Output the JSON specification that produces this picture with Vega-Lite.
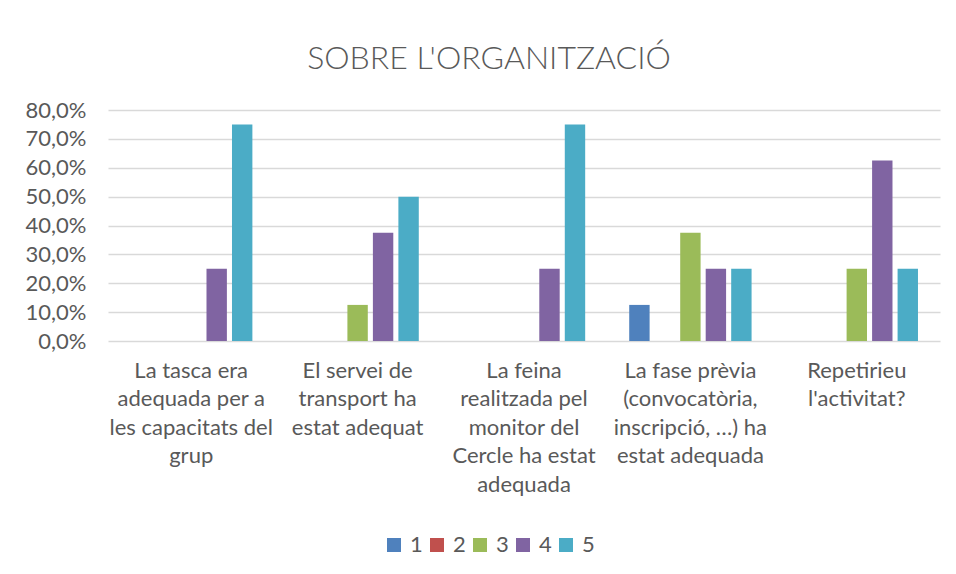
{
  "$schema": "https://vega.github.io/schema/vega-lite/v6.json",
  "width": 832,
  "height": 231,
  "autosize": {"type": "none"},
  "padding": {"left": 108, "top": 110, "right": 16, "bottom": 233},
  "background": "white",
  "title": {
    "text": "SOBRE L'ORGANITZACIÓ",
    "font": "Lato",
    "fontSize": 32,
    "fontWeight": 300,
    "color": "#595959",
    "anchor": "middle",
    "dx": -35,
    "offset": 23
  },
  "data": {
    "values": [
      {"pregunta": "La tasca era|adequada per a|les capacitats del|grup", "resposta": "1", "percentatge": 0},
      {"pregunta": "La tasca era|adequada per a|les capacitats del|grup", "resposta": "2", "percentatge": 0},
      {"pregunta": "La tasca era|adequada per a|les capacitats del|grup", "resposta": "3", "percentatge": 0},
      {"pregunta": "La tasca era|adequada per a|les capacitats del|grup", "resposta": "4", "percentatge": 0.25},
      {"pregunta": "La tasca era|adequada per a|les capacitats del|grup", "resposta": "5", "percentatge": 0.75},
      {"pregunta": "El servei de|transport ha|estat adequat", "resposta": "1", "percentatge": 0},
      {"pregunta": "El servei de|transport ha|estat adequat", "resposta": "2", "percentatge": 0},
      {"pregunta": "El servei de|transport ha|estat adequat", "resposta": "3", "percentatge": 0.125},
      {"pregunta": "El servei de|transport ha|estat adequat", "resposta": "4", "percentatge": 0.375},
      {"pregunta": "El servei de|transport ha|estat adequat", "resposta": "5", "percentatge": 0.5},
      {"pregunta": "La feina|realitzada pel|monitor del|Cercle ha estat|adequada", "resposta": "1", "percentatge": 0},
      {"pregunta": "La feina|realitzada pel|monitor del|Cercle ha estat|adequada", "resposta": "2", "percentatge": 0},
      {"pregunta": "La feina|realitzada pel|monitor del|Cercle ha estat|adequada", "resposta": "3", "percentatge": 0},
      {"pregunta": "La feina|realitzada pel|monitor del|Cercle ha estat|adequada", "resposta": "4", "percentatge": 0.25},
      {"pregunta": "La feina|realitzada pel|monitor del|Cercle ha estat|adequada", "resposta": "5", "percentatge": 0.75},
      {"pregunta": "La fase prèvia|(convocatòria,|inscripció, …) ha|estat adequada", "resposta": "1", "percentatge": 0.125},
      {"pregunta": "La fase prèvia|(convocatòria,|inscripció, …) ha|estat adequada", "resposta": "2", "percentatge": 0},
      {"pregunta": "La fase prèvia|(convocatòria,|inscripció, …) ha|estat adequada", "resposta": "3", "percentatge": 0.375},
      {"pregunta": "La fase prèvia|(convocatòria,|inscripció, …) ha|estat adequada", "resposta": "4", "percentatge": 0.25},
      {"pregunta": "La fase prèvia|(convocatòria,|inscripció, …) ha|estat adequada", "resposta": "5", "percentatge": 0.25},
      {"pregunta": "Repetirieu|l'activitat?", "resposta": "1", "percentatge": 0},
      {"pregunta": "Repetirieu|l'activitat?", "resposta": "2", "percentatge": 0},
      {"pregunta": "Repetirieu|l'activitat?", "resposta": "3", "percentatge": 0.25},
      {"pregunta": "Repetirieu|l'activitat?", "resposta": "4", "percentatge": 0.625},
      {"pregunta": "Repetirieu|l'activitat?", "resposta": "5", "percentatge": 0.25}
    ]
  },
  "mark": {"type": "bar"},
  "encoding": {
    "x": {
      "field": "pregunta",
      "type": "nominal",
      "sort": null,
      "scale": {"paddingInner": 0.234, "paddingOuter": 0.117},
      "axis": {
        "title": null,
        "labelAngle": 0,
        "labelExpr": "split(datum.label, '|')",
        "labelFont": "Lato",
        "labelFontSize": 22,
        "labelColor": "#595959",
        "labelLineHeight": 28.5,
        "labelPadding": 19,
        "labelBaseline": "top",
        "labelLimit": 0,
        "ticks": false,
        "domain": false
      }
    },
    "xOffset": {
      "field": "resposta",
      "type": "nominal",
      "scale": {"paddingInner": 0.2, "paddingOuter": 0.1}
    },
    "y": {
      "field": "percentatge",
      "type": "quantitative",
      "scale": {"domain": [0, 0.8], "nice": false},
      "axis": {
        "title": null,
        "values": [0, 0.1, 0.2, 0.3, 0.4, 0.5, 0.6, 0.7, 0.8],
        "labelExpr": "replace(format(datum.value, '.1%'), '.', ',')",
        "labelFont": "Lato",
        "labelFontSize": 22,
        "labelColor": "#595959",
        "labelPadding": 22,
        "ticks": false,
        "domain": false,
        "grid": true,
        "gridColor": "#d9d9d9",
        "gridWidth": 1.5
      }
    },
    "color": {
      "field": "resposta",
      "type": "nominal",
      "scale": {
        "domain": ["1", "2", "3", "4", "5"],
        "range": ["#4F81BD", "#C0504D", "#9BBB59", "#8064A2", "#4BACC6"]
      },
      "legend": {
        "title": null,
        "orient": "none",
        "direction": "horizontal",
        "legendX": 275,
        "legendY": 424,
        "symbolType": "square",
        "symbolSize": 196,
        "symbolStrokeWidth": 0,
        "symbolOpacity": 1,
        "labelFont": "Lato",
        "labelFontSize": 22,
        "labelColor": "#595959",
        "labelOffset": 5,
        "columnPadding": 3,
        "gridAlign": "none"
      }
    }
  },
  "config": {
    "view": {"stroke": null}
  }
}
